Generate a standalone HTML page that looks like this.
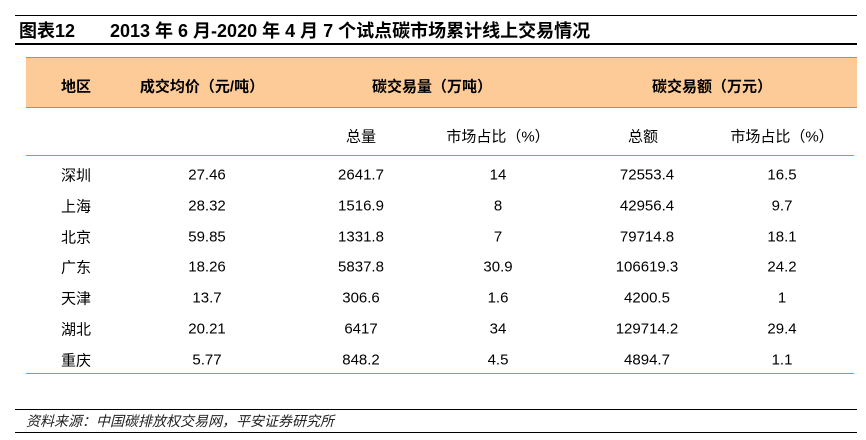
<!DOCTYPE html>
<html><head><meta charset="utf-8"><style>
body{margin:0;width:866px;height:440px;background:#fff;position:relative;overflow:hidden;font-family:"Liberation Sans","Noto Sans CJK SC",sans-serif;color:#000}
.a{position:absolute}
.t{position:absolute;font-size:15px;white-space:nowrap;transform:translate(-50%,-50%)}
.l{position:absolute;font-size:15px;white-space:nowrap;transform:translateY(-50%)}
.b{font-weight:bold}
</style></head><body>
<div class="a" style="left:15px;top:15px;width:842px;height:1px;background:#000"></div>
<div class="a" style="left:15px;top:43px;width:842px;height:2px;background:#000"></div>
<div class="l b" style="left:19px;top:30px;font-size:18px">图表12</div>
<div class="l b" style="left:110px;top:30px;font-size:18px">2013 年 6 月-2020 年 4 月 7 个试点碳市场累计线上交易情况</div>
<div class="a" style="left:26px;top:57px;width:831px;height:51px;background:#FDCB98;border-top:1px solid #ED7D31;border-bottom:1px solid #ED7D31;box-sizing:border-box"></div>
<div class="a" style="left:26px;top:155px;width:828px;height:1px;background:#ED7D31"></div>
<div class="a" style="left:26px;top:373px;width:828px;height:1px;background:#ED7D31"></div>
<div class="l b" style="left:61px;top:86px">地区</div>
<div class="t b" style="left:202px;top:86px">成交均价（元/吨）</div>
<div class="t b" style="left:432px;top:86px">碳交易量（万吨）</div>
<div class="t b" style="left:712px;top:86px">碳交易额（万元）</div>
<div class="t" style="left:361px;top:136px">总量</div>
<div class="t" style="left:498px;top:136px">市场占比（%）</div>
<div class="t" style="left:643px;top:136px">总额</div>
<div class="t" style="left:782px;top:136px">市场占比（%）</div>
<div id="rows"></div>
<div class="a" style="left:15px;top:409px;width:842px;height:1px;background:#000"></div>
<div class="a" style="left:15px;top:432px;width:842px;height:1px;background:#000"></div>
<div class="l" style="left:26px;top:421px;font-size:14px;font-style:italic;color:#222">资料来源：中国碳排放权交易网，平安证券研究所</div>
<script>
var d=[["深圳","27.46","2641.7","14","72553.4","16.5"],["上海","28.32","1516.9","8","42956.4","9.7"],["北京","59.85","1331.8","7","79714.8","18.1"],["广东","18.26","5837.8","30.9","106619.3","24.2"],["天津","13.7","306.6","1.6","4200.5","1"],["湖北","20.21","6417","34","129714.2","29.4"],["重庆","5.77","848.2","4.5","4894.7","1.1"]];
var xs=[207,361,498,647,782],h="";
d.forEach(function(r,i){var y=175+i*30.8;h+='<div class="l" style="left:61px;top:'+y+'px">'+r[0]+'</div>';for(var j=1;j<6;j++)h+='<div class="t" style="left:'+xs[j-1]+'px;top:'+y+'px">'+r[j]+'</div>';});
document.getElementById("rows").innerHTML=h;
</script>
</body></html>
